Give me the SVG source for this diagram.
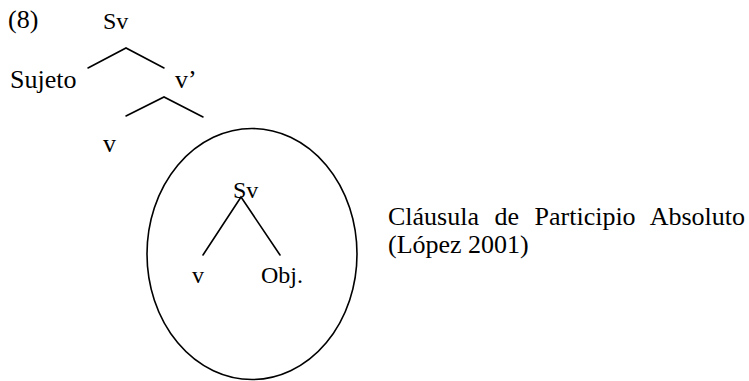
<svg xmlns="http://www.w3.org/2000/svg" width="749" height="381" viewBox="0 0 749 381">
<style>
text{font-family:"Liberation Serif","Times New Roman",serif;fill:#000;font-size:26px}
.s{font-size:24px}
.e{fill:none;stroke:#000;stroke-width:1.6;stroke-linecap:round;stroke-linejoin:miter}
</style>
<rect width="749" height="381" fill="#fff"/>
<g id="label-8"><text x="8" y="28">(8)</text></g>
<g id="node-sv-top"><text class="s" x="103" y="29">Sv</text></g>
<g id="node-sujeto"><text x="10" y="88">Sujeto</text></g>
<g id="node-vbar"><text x="175" y="88">v’</text></g>
<g id="node-v-top"><text x="103" y="152">v</text></g>
<g id="node-clause">
<ellipse class="e" cx="252" cy="254" rx="105" ry="125.5" stroke-width="2"/>
<text class="s" x="233" y="198">Sv</text>
</g>
<g id="node-v-inner"><text class="s" x="192" y="283">v</text></g>
<g id="node-obj"><text class="s" x="261" y="283">Obj.</text></g>
<g id="caption">
<text x="388" y="225" word-spacing="9">Cláusula de Participio Absoluto</text>
<text x="388" y="253">(López 2001)</text>
</g>
<g id="connectors">
<polyline class="e" points="88,68 126,48 164,68"/>
<polyline class="e" points="126,116 164,97 203,117"/>
<polyline class="e" points="203,255 241,197 280,255"/>
</g>
</svg>
